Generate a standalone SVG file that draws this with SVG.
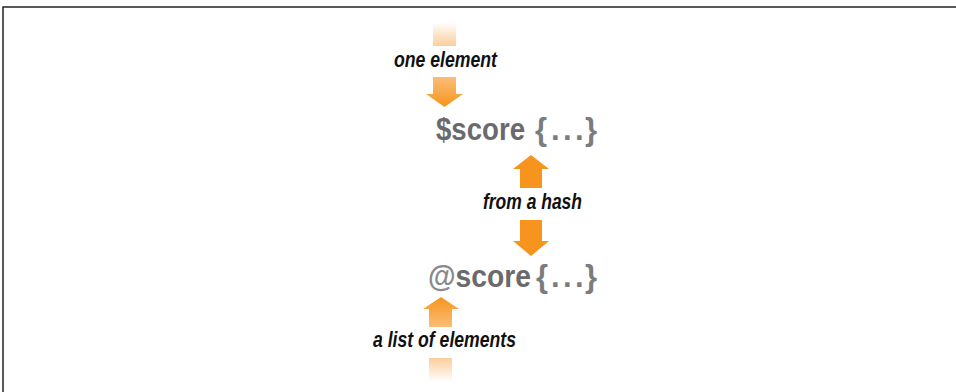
<svg xmlns="http://www.w3.org/2000/svg" width="956" height="392" viewBox="0 0 956 392">
<defs>
<style>
.lbl{font-family:"Liberation Sans",Arial,sans-serif;font-weight:bold;font-style:italic;font-size:22px;fill:#111}
.code{font-family:"Liberation Sans",Arial,sans-serif;font-weight:bold;font-size:31px}
.dark{fill:#6a6a6c}
.light{fill:#7c7c7e}
.lighter{fill:#8a8a8c}
.solid{fill:#f7941d}
</style>
<linearGradient id="fadeDown" x1="0" y1="0" x2="0" y2="1">
<stop offset="0" stop-color="#fbc58a" stop-opacity="0"/>
<stop offset="1" stop-color="#fbc58a" stop-opacity="0.85"/>
</linearGradient>
<linearGradient id="fadeUp" x1="0" y1="0" x2="0" y2="1">
<stop offset="0" stop-color="#fbc58a" stop-opacity="0.85"/>
<stop offset="1" stop-color="#fbc58a" stop-opacity="0"/>
</linearGradient>
<linearGradient id="toDark" x1="0" y1="0" x2="0" y2="1">
<stop offset="0" stop-color="#fbbd78"/>
<stop offset="1" stop-color="#f7941d"/>
</linearGradient>
<linearGradient id="toLight" x1="0" y1="0" x2="0" y2="1">
<stop offset="0" stop-color="#f7941d"/>
<stop offset="1" stop-color="#fbbd78"/>
</linearGradient>
</defs>
<rect width="956" height="392" fill="#fff"/>
<polyline points="3,392 3,7 956,7" fill="none" stroke="#222" stroke-width="1.5"/>

<g id="connectors">
<rect x="433" y="22" width="23" height="24" fill="url(#fadeDown)"/>
<path d="M433,77 H456 V94 H463 L444.5,107 L426,94 H433 Z" fill="url(#toDark)"/>
<path d="M531,155 L549,169 H542 V188 H520 V169 H513 Z" class="solid"/>
<path d="M520,220 H542 V241 H549 L531,256 L513,241 H520 Z" class="solid"/>
<path d="M441,297 L459,309 H452 V327 H429 V309 H423 Z" fill="url(#toLight)"/>
<rect x="429" y="358" width="23" height="24" fill="url(#fadeUp)"/>
</g>

<g id="label-one-element">
<text class="lbl" x="394" y="67" textLength="103" lengthAdjust="spacingAndGlyphs">one element</text>
</g>
<g id="node-scalar">
<text class="code dark" x="436" y="140" textLength="89" lengthAdjust="spacingAndGlyphs">$score</text>
<text class="code light" y="140" x="535 551 563 575 585">{...}</text>
</g>
<g id="label-from-a-hash">
<text class="lbl" x="483" y="209" textLength="99" lengthAdjust="spacingAndGlyphs">from a hash</text>
</g>
<g id="node-array">
<text class="code" x="428" y="287" textLength="103" lengthAdjust="spacingAndGlyphs"><tspan class="lighter">@</tspan><tspan class="dark">score</tspan></text>
<text class="code light" y="287" x="536 551 563 575 585">{...}</text>
</g>
<g id="label-list">
<text class="lbl" x="373" y="347" textLength="143" lengthAdjust="spacingAndGlyphs">a list of elements</text>
</g>
</svg>
